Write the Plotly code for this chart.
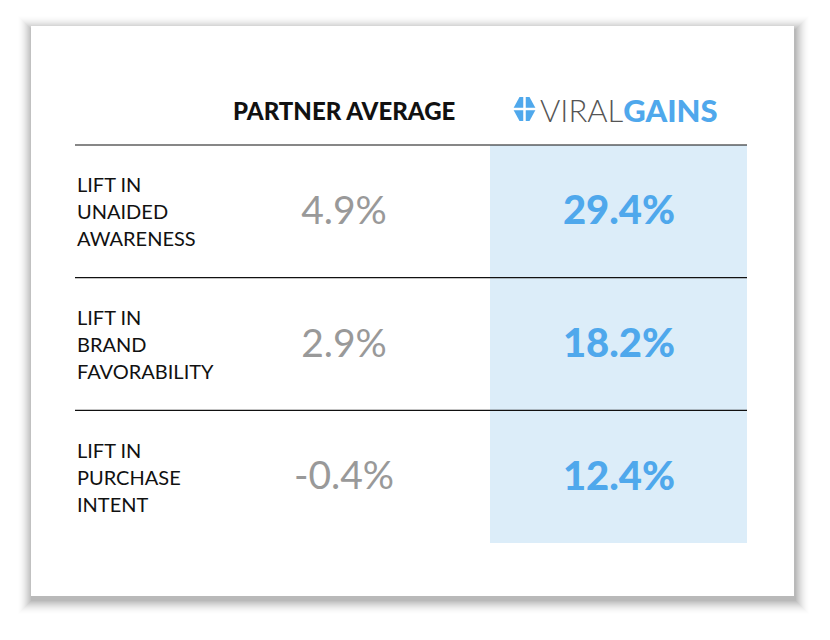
import plotly.graph_objects as go

# datos de la tabla
metricas = [["LIFT IN", "UNAIDED", "AWARENESS"],
            ["LIFT IN", "BRAND", "FAVORABILITY"],
            ["LIFT IN", "PURCHASE", "INTENT"]]
partner_avg = [4.9, 2.9, -0.4]
viral_gains = [29.4, 18.2, 12.4]

# geometria en pixeles de la pagina (el body tiene 8px de margen)
top, bottom = 145, 543
row_h = (bottom - top) / len(metricas)
centros = [top + (i + 0.5) * row_h for i in range(len(metricas))]

FONT = "Lato"
AZUL = "#4FA8EC"
GRIS = "#999999"

fig = go.Figure()

# etiquetas de fila, una linea por punto
lx, ly, lt = [], [], []
for c, lineas in zip(centros, metricas):
    for j, t in enumerate(lineas):
        lx.append(77)
        ly.append(c - 24 + j * 27)
        lt.append(t)
fig.add_trace(go.Scatter(x=lx, y=ly, text=lt, mode="text", textposition="middle right",
                         textfont=dict(family=FONT, size=20, color="#111111"),
                         hoverinfo="skip"))

fig.add_trace(go.Scatter(x=[344] * 3, y=[c + 3 for c in centros], mode="text",
                         text=[f"{v:.1f}%" for v in partner_avg],
                         textposition="middle center",
                         textfont=dict(family=FONT, size=39, color=GRIS, weight=400),
                         hoverinfo="skip"))

fig.add_trace(go.Scatter(x=[619] * 3, y=[c + 3 for c in centros], mode="text",
                         text=[f"{v:.1f}%" for v in viral_gains],
                         textposition="middle center",
                         textfont=dict(family=FONT, size=40, color=AZUL, weight=900),
                         hoverinfo="skip"))

shapes = []
# sombra de la tarjeta (difuminado por capas)
n = 15
perfil = [0.30 * (1 - d / n) ** 2 for d in range(n + 1)]
for e in range(n, 0, -1):
    a = perfil[e - 1] - perfil[e]
    shapes.append(dict(type="rect", x0=31 - e + 1, x1=794 + e + 1, y0=26 - e + 4, y1=596 + e + 4,
                       fillcolor=f"rgba(0,0,0,{a:.4f})", line=dict(width=0), layer="below"))
shapes.append(dict(type="rect", x0=31, x1=794, y0=26, y1=596,
                   fillcolor="white", line=dict(width=0), layer="below"))
# columna resaltada
shapes.append(dict(type="rect", x0=490, x1=747, y0=top, y1=bottom,
                   fillcolor="#DCEDF9", line=dict(width=0), layer="below"))
# lineas horizontales
for y in [top, top + row_h, top + 2 * row_h]:
    shapes.append(dict(type="line", x0=75, x1=747, y0=y, y1=y,
                       line=dict(color="#111111", width=1.2)))
# icono del logo
cx, cy = 524.5, 109
shapes.append(dict(type="path",
                   path=f"M {cx-11.5},{cy} L {cx-5},{cy-12} L {cx+5},{cy-12} L {cx+11.5},{cy} "
                        f"L {cx+5},{cy+12} L {cx-5},{cy+12} Z",
                   fillcolor=AZUL, line=dict(width=0)))
shapes.append(dict(type="line", x0=cx, x1=cx, y0=cy - 13, y1=cy + 13,
                   line=dict(color="white", width=2.5)))
shapes.append(dict(type="line", x0=cx - 13, x1=cx + 13, y0=cy, y1=cy,
                   line=dict(color="white", width=2.5)))

annotations = [
    dict(x=344, y=110, text="PARTNER AVERAGE", showarrow=False,
         font=dict(family=FONT, size=24, color="#111111", weight=900),
         xanchor="center", yanchor="middle"),
    dict(x=538, y=110,
         text="<span style='color:#555555;font-weight:300'>VIRAL</span>"
              "<span style='font-weight:900'>GAINS</span>",
         showarrow=False, font=dict(family=FONT, size=31, color=AZUL),
         xanchor="left", yanchor="middle"),
]

fig.update_layout(
    width=822, height=632,
    margin=dict(l=0, r=0, t=0, b=0),
    paper_bgcolor="white", plot_bgcolor="white",
    xaxis=dict(range=[8, 830], visible=False, fixedrange=True),
    yaxis=dict(range=[640, 8], visible=False, fixedrange=True),
    shapes=shapes, annotations=annotations,
    showlegend=False,
)

fig.write_html("out.html", config={"displayModeBar": False})
